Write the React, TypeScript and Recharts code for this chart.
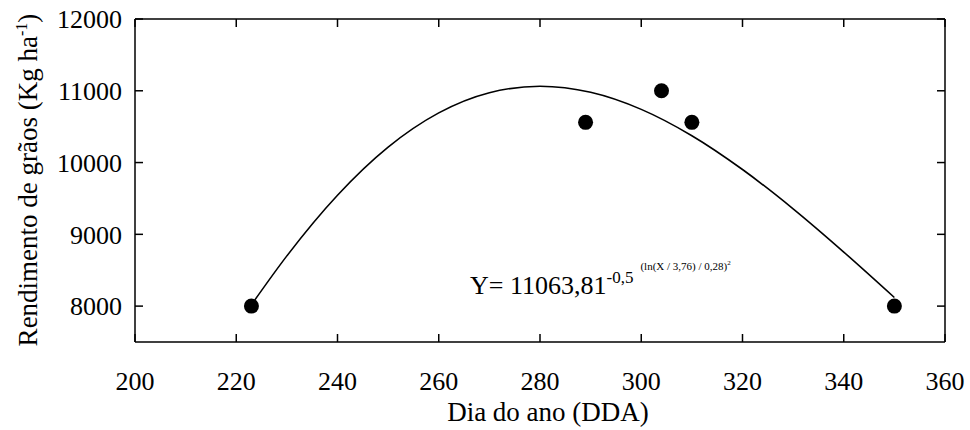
import React from 'react';
import {
  ComposedChart,
  XAxis,
  YAxis,
  Line,
  Scatter,
  Customized
} from 'recharts';

// observed points
const obsDays = [223, 289, 304, 310, 350];
const obsYield = [8000, 10560, 11000, 10560, 8000];

// fitted curve
const fitDays = [223, 230, 240, 250, 260, 270, 280, 290, 300, 310, 320, 330, 340, 350];
const fitYield = [8019, 8700, 9545, 10215, 10692, 10973, 11063, 10979, 10741, 10374, 9903, 9355, 8753, 8120];

const xTicks = [200, 220, 240, 260, 280, 300, 320, 340, 360];
const yTicks = [8000, 9000, 10000, 11000, 12000];

const points = obsDays.map((x, i) => ({ x, y: obsYield[i] }));
const curve = fitDays.map((x, i) => ({ x, y: fitYield[i] }));

const FONT = 'Liberation Serif, DejaVu Serif, serif';
const TICK_LEN = 8;
const GAP_X = 30;
const GAP_Y = 13;

// inward tick marks drawn with the labels
const BottomTick = (p: any) => (
  <g>
    <line x1={p.x} x2={p.x} y1={p.y - GAP_X} y2={p.y - GAP_X - TICK_LEN} stroke="#000" strokeWidth={1.5} />
    <text x={p.x} y={p.y} dy="0.71em" textAnchor="middle" fontSize={26} fill="#000" style={{ fontFamily: FONT }}>
      {p.payload.value}
    </text>
  </g>
);

const LeftTick = (p: any) => (
  <g>
    <line x1={p.x + GAP_Y} x2={p.x + GAP_Y + TICK_LEN} y1={p.y} y2={p.y} stroke="#000" strokeWidth={1.5} />
    <text x={p.x} y={p.y} dy="0.355em" textAnchor="end" fontSize={26} fill="#000" style={{ fontFamily: FONT }}>
      {p.payload.value}
    </text>
  </g>
);

const TopTick = (p: any) => (
  <line x1={p.x} x2={p.x} y1={p.y} y2={p.y + TICK_LEN} stroke="#000" strokeWidth={1.5} />
);

const RightTick = (p: any) => (
  <line x1={p.x} x2={p.x - TICK_LEN} y1={p.y} y2={p.y} stroke="#000" strokeWidth={1.5} />
);

const Annotations = () => (
  <g style={{ fontFamily: FONT }} fill="#000">
    <text transform="rotate(-90, 37, 180)" x={37} y={180} textAnchor="middle" fontSize={27}>
      Rendimento de grãos (Kg ha
      <tspan dy={-10} fontSize={16}>-1</tspan>
      <tspan dy={10}>)</tspan>
    </text>
    <text x={548} y={421} textAnchor="middle" fontSize={27}>
      Dia do ano (DDA)
    </text>
    <text x={470} y={294} fontSize={26}>
      Y= 11063,81
      <tspan dy={-11} fontSize={17}>-0,5</tspan>
      <tspan dx={7} dy={-13} fontSize={11}>(ln(X / 3,76) / 0,28)</tspan>
      <tspan dy={-5} fontSize={7}>2</tspan>
    </text>
  </g>
);

const App: React.FC = () => {
  const lineStyle = { stroke: '#000', strokeWidth: 1.5 };
  return (
    <div style={{ position: 'absolute', left: 0, top: 0, background: '#fff', fontFamily: FONT }}>
      <ComposedChart width={970} height={430} margin={{ top: 18, right: 24, left: 0, bottom: 0 }}>
        <XAxis
          xAxisId="b"
          dataKey="x"
          type="number"
          domain={[200, 360]}
          ticks={xTicks}
          allowDataOverflow
          height={88}
          tickSize={0}
          tickMargin={GAP_X}
          axisLine={lineStyle}
          tickLine={false}
          tick={BottomTick}
        />
        <XAxis
          xAxisId="t"
          orientation="top"
          dataKey="x"
          type="number"
          domain={[200, 360]}
          ticks={xTicks}
          allowDataOverflow
          height={1}
          tickSize={0}
          tickMargin={0}
          axisLine={lineStyle}
          tickLine={false}
          tick={TopTick}
        />
        <YAxis
          yAxisId="l"
          type="number"
          domain={[7500, 12000]}
          ticks={yTicks}
          allowDataOverflow
          width={135}
          tickSize={0}
          tickMargin={GAP_Y}
          axisLine={lineStyle}
          tickLine={false}
          tick={LeftTick}
        />
        <YAxis
          yAxisId="r"
          orientation="right"
          type="number"
          domain={[7500, 12000]}
          ticks={yTicks}
          allowDataOverflow
          width={1}
          tickSize={0}
          tickMargin={0}
          axisLine={lineStyle}
          tickLine={false}
          tick={RightTick}
        />
        <Line
          xAxisId="b"
          yAxisId="l"
          data={curve}
          dataKey="y"
          type="monotone"
          stroke="#000"
          strokeWidth={1.6}
          dot={false}
          activeDot={false}
          isAnimationActive={false}
        />
        <Scatter
          xAxisId="b"
          yAxisId="l"
          data={points}
          dataKey="y"
          fill="#000"
          shape={(p: any) => <circle cx={p.cx} cy={p.cy} r={7.5} fill="#000" />}
          isAnimationActive={false}
        />
        <Customized component={Annotations} />
      </ComposedChart>
    </div>
  );
};

export default App;
